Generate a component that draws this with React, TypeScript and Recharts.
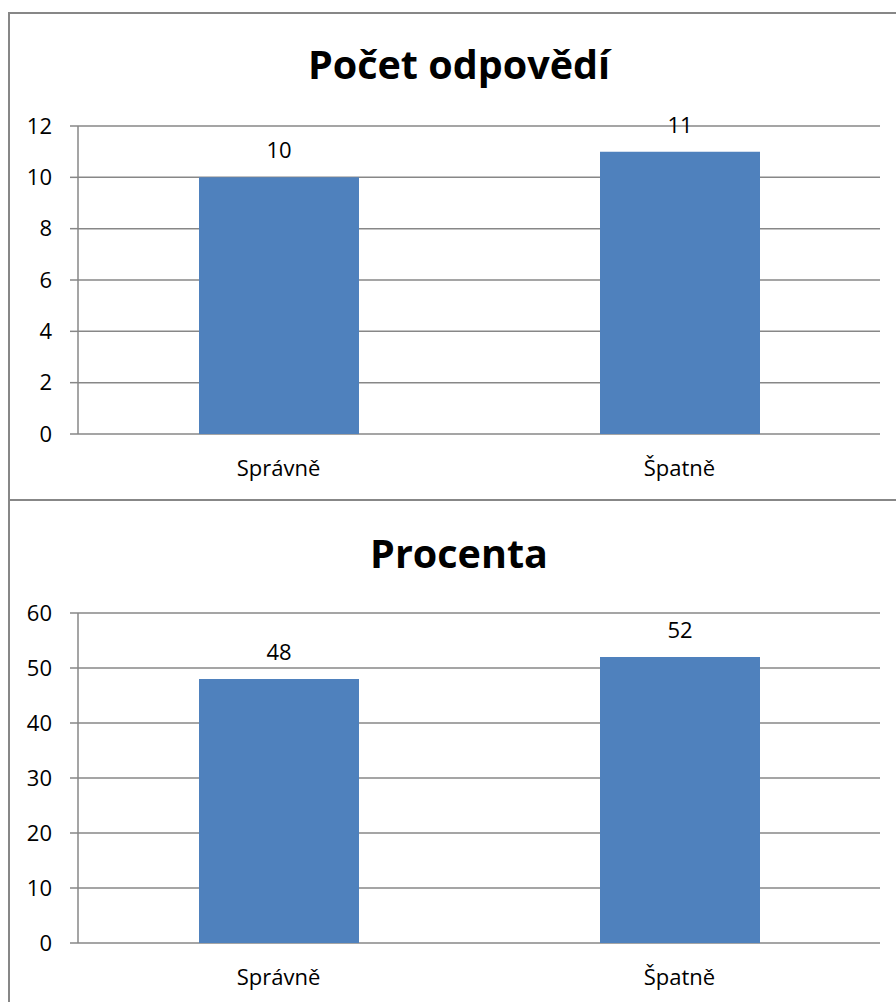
import React from 'react';
import { BarChart, Bar, XAxis, YAxis, CartesianGrid, LabelList } from 'recharts';

const categories = ['Správně', 'Špatně'];
const countValues = [10, 11];
const percentValues = [48, 52];
const countTicks = [0, 2, 4, 6, 8, 10, 12];
const percentTicks = [0, 10, 20, 30, 40, 50, 60];
const boundaryTicks = [0, 1, 2];

const countData = categories.map((c, i) => ({ name: c, value: countValues[i] }));
const percentData = categories.map((c, i) => ({ name: c, value: percentValues[i] }));

const FONT = '"Open Sans", sans-serif';
const GRAY = '#878787';
const BLUE = '#4F81BD';

const EmptyTick = () => <g />;

function Chart({ data, ticks, max, top, height, marginTop, catHeight, title, titleTop }: any) {
  return (
    <div style={{ position: 'absolute', left: 0, top, width: 896, height }}>
      <div
        style={{
          position: 'absolute',
          left: 459 - 300,
          width: 600,
          top: titleTop,
          textAlign: 'center',
          fontWeight: 700,
          fontSize: 39.5,
          fontFamily: FONT,
          color: '#000',
          lineHeight: '50px',
          whiteSpace: 'nowrap',
        }}
      >
        {title}
      </div>
      <BarChart
        width={896}
        height={height}
        data={data}
        margin={{ top: marginTop, right: 16, bottom: 0, left: 0 }}
        style={{ fontFamily: FONT }}
      >
        <CartesianGrid vertical={false} stroke={GRAY} strokeWidth={1.5} />
        <XAxis
          xAxisId={0}
          type="number"
          domain={[0, 2]}
          ticks={boundaryTicks}
          height={0}
          tick={EmptyTick}
          tickSize={8}
          axisLine={{ stroke: GRAY, strokeWidth: 1.5 }}
          tickLine={{ stroke: GRAY, strokeWidth: 1.5 }}
          allowDataOverflow
        />
        <XAxis
          xAxisId="cat"
          dataKey="name"
          type="category"
          height={catHeight}
          axisLine={false}
          tickLine={false}
          tickSize={0}
          tickMargin={26}
          tick={{ fill: '#000', fontSize: 22, fontFamily: FONT }}
        />
        <YAxis
          width={78}
          domain={[0, max]}
          ticks={ticks}
          tickSize={8}
          tickMargin={18}
          axisLine={{ stroke: GRAY, strokeWidth: 1.5 }}
          tickLine={{ stroke: GRAY, strokeWidth: 1.5 }}
          tick={{ fill: '#000', fontSize: 22, fontFamily: FONT }}
          interval={0}
        />
        <Bar xAxisId="cat" dataKey="value" fill={BLUE} barSize={160} isAnimationActive={false}>
          <LabelList dataKey="value" position="top" offset={19} fill="#000" fontSize={22} fontFamily={FONT} />
        </Bar>
      </BarChart>
    </div>
  );
}

export default function App() {
  return (
    <div style={{ position: 'absolute', left: 0, top: 0, width: 896, height: 1002, overflow: 'hidden', background: '#fff' }}>
      <Chart data={countData} ticks={countTicks} max={12} top={0} height={500} marginTop={126} catHeight={66} title="Počet odpovědí" titleTop={39} />
      <Chart data={percentData} ticks={percentTicks} max={60} top={500} height={502} marginTop={113} catHeight={59} title="Procenta" titleTop={28} />
      <div style={{ position: 'absolute', left: 8, top: 12, width: 900, height: 1000, borderLeft: `2px solid ${GRAY}`, borderTop: `2px solid ${GRAY}`, pointerEvents: 'none' }} />
      <div style={{ position: 'absolute', left: 8, top: 499, width: 900, height: 0, borderTop: `2px solid ${GRAY}`, pointerEvents: 'none' }} />
    </div>
  );
}
